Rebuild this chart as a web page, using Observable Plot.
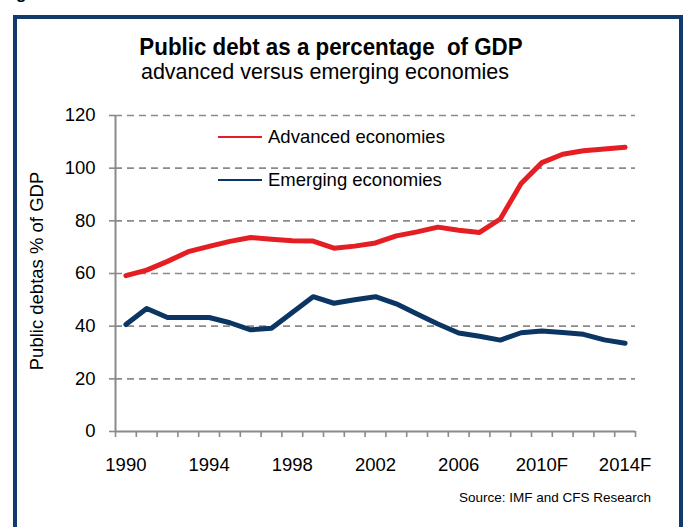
<!DOCTYPE html>
<html>
<head>
<meta charset="utf-8">
<script src="https://cdn.jsdelivr.net/npm/d3@7"></script>
<script src="https://cdn.jsdelivr.net/npm/@observablehq/plot@0.6"></script>
<style>
  html, body { margin: 0; padding: 0; background: #fff; width: 684px; height: 527px; overflow: hidden; }
  body { position: relative; font-family: "Liberation Sans", Arial, sans-serif; color: #000; }
  #chart { position: absolute; left: 0; top: 0; }
  .abs { position: absolute; white-space: nowrap; }
  #frame { position: absolute; left: 13px; top: 15px; width: 662px; height: 600px; border: 4px solid #123a6b; }
  #fig { left: 1px; top: -15px; font-weight: bold; font-size: 17px; line-height: 17px; }
  #title { left: 31px; width: 600px; top: 32px; text-align: center; font-weight: bold; font-size: 24px; line-height: 30px; transform: scaleX(0.93); }
  #subtitle { left: 25px; width: 600px; top: 59px; text-align: center; font-size: 21.5px; line-height: 26px; }
  #ylabel { left: 37px; top: 271px; font-size: 18.5px; transform: translate(-50%, -50%) rotate(-90deg); }
  #legend { left: 218px; top: 115px; font-size: 18.5px; }
  .row { display: flex; align-items: center; height: 43px; }
  .sw { width: 44px; height: 2px; margin-right: 6px; }
  #source { right: 33px; top: 490px; font-size: 13.5px; }
</style>
</head>
<body>
<div id="chart"></div>
<div id="frame"></div>
<div class="abs" id="fig">Figure 1</div>
<div class="abs" id="title">Public debt as a percentage &nbsp;of GDP</div>
<div class="abs" id="subtitle">advanced versus emerging economies</div>
<div class="abs" id="ylabel">Public debtas % of GDP</div>
<div class="abs" id="legend"></div>
<div class="abs" id="source">Source: IMF and CFS Research</div>
<script>
const years = [1990, 1991, 1992, 1993, 1994, 1995, 1996, 1997, 1998, 1999, 2000, 2001, 2002,
               2003, 2004, 2005, 2006, 2007, 2008, 2009, 2010, 2011, 2012, 2013, 2014];
const advanced = [59.2, 61.3, 64.6, 68.3, 70.3, 72.2, 73.7, 73.0, 72.4, 72.3, 69.6, 70.4, 71.6,
                  74.3, 75.8, 77.6, 76.4, 75.6, 80.7, 94.2, 102.1, 105.3, 106.6, 107.3, 107.9];
const emerging = [40.6, 46.7, 43.3, 43.3, 43.3, 41.3, 38.6, 39.2, 45.2, 51.2, 48.7, 50.0, 51.2,
                  48.5, 44.6, 40.8, 37.4, 36.2, 34.7, 37.5, 38.2, 37.6, 36.9, 34.8, 33.5];
const seriesNames = ["Advanced economies", "Emerging economies"];
const seriesColors = ["#e41e22", "#0b3563"];
const yTicks = [0, 20, 40, 60, 80, 100, 120];
const xTickYears = [1990, 1994, 1998, 2002, 2006, 2010, 2014];
const xTickLabels = ["1990", "1994", "1998", "2002", "2006", "2010F", "2014F"];

const data = years.flatMap((yr, i) => [
  {year: yr, value: advanced[i], series: seriesNames[0]},
  {year: yr, value: emerging[i], series: seriesNames[1]}
]);
// category boundaries (tick marks between yearly categories)
const boundaries = years.map(y => y - 0.5).concat([years[years.length - 1] + 0.5]);

const chart = Plot.plot({
  width: 684,
  height: 527,
  marginLeft: 115,
  marginRight: 49,
  marginTop: 115,
  marginBottom: 96,
  x: {domain: [boundaries[0], boundaries[boundaries.length - 1]]},
  y: {domain: [0, 120]},
  color: {domain: seriesNames, range: seriesColors},
  style: {fontFamily: "'Liberation Sans', Arial, sans-serif", fontSize: "18.5px", color: "#000", background: "transparent", overflow: "visible"},
  marks: [
    Plot.gridY(yTicks.slice(1), {stroke: "#8a8a8a", strokeOpacity: 1, strokeWidth: 1.6, strokeDasharray: "7,5"}),
    Plot.axisY(yTicks, {tickSize: 6, tickPadding: 14, stroke: "#8a8a8a", strokeWidth: 1.6, label: null, fill: "#000"}),
    Plot.axisX(boundaries, {tickSize: 6, tickFormat: () => "", stroke: "#8a8a8a", strokeWidth: 1.6, label: null}),
    Plot.axisX(xTickYears, {tickSize: 0, tickPadding: 26, tickFormat: d => xTickLabels[xTickYears.indexOf(d)], label: null, fill: "#000"}),
    Plot.ruleX([boundaries[0]], {stroke: "#8a8a8a", strokeWidth: 2}),
    Plot.ruleY([0], {stroke: "#8a8a8a", strokeWidth: 2}),
    Plot.lineY(data, {x: "year", y: "value", stroke: "series", strokeWidth: 5, strokeLinejoin: "round", strokeLinecap: "round"})
  ]
});
document.getElementById("chart").appendChild(chart);

const legend = document.getElementById("legend");
seriesNames.forEach((name, i) => {
  const row = document.createElement("div");
  row.className = "row";
  const sw = document.createElement("span");
  sw.className = "sw";
  sw.style.background = seriesColors[i];
  const t = document.createElement("span");
  t.textContent = name;
  row.appendChild(sw);
  row.appendChild(t);
  legend.appendChild(row);
});
</script>
</body>
</html>
